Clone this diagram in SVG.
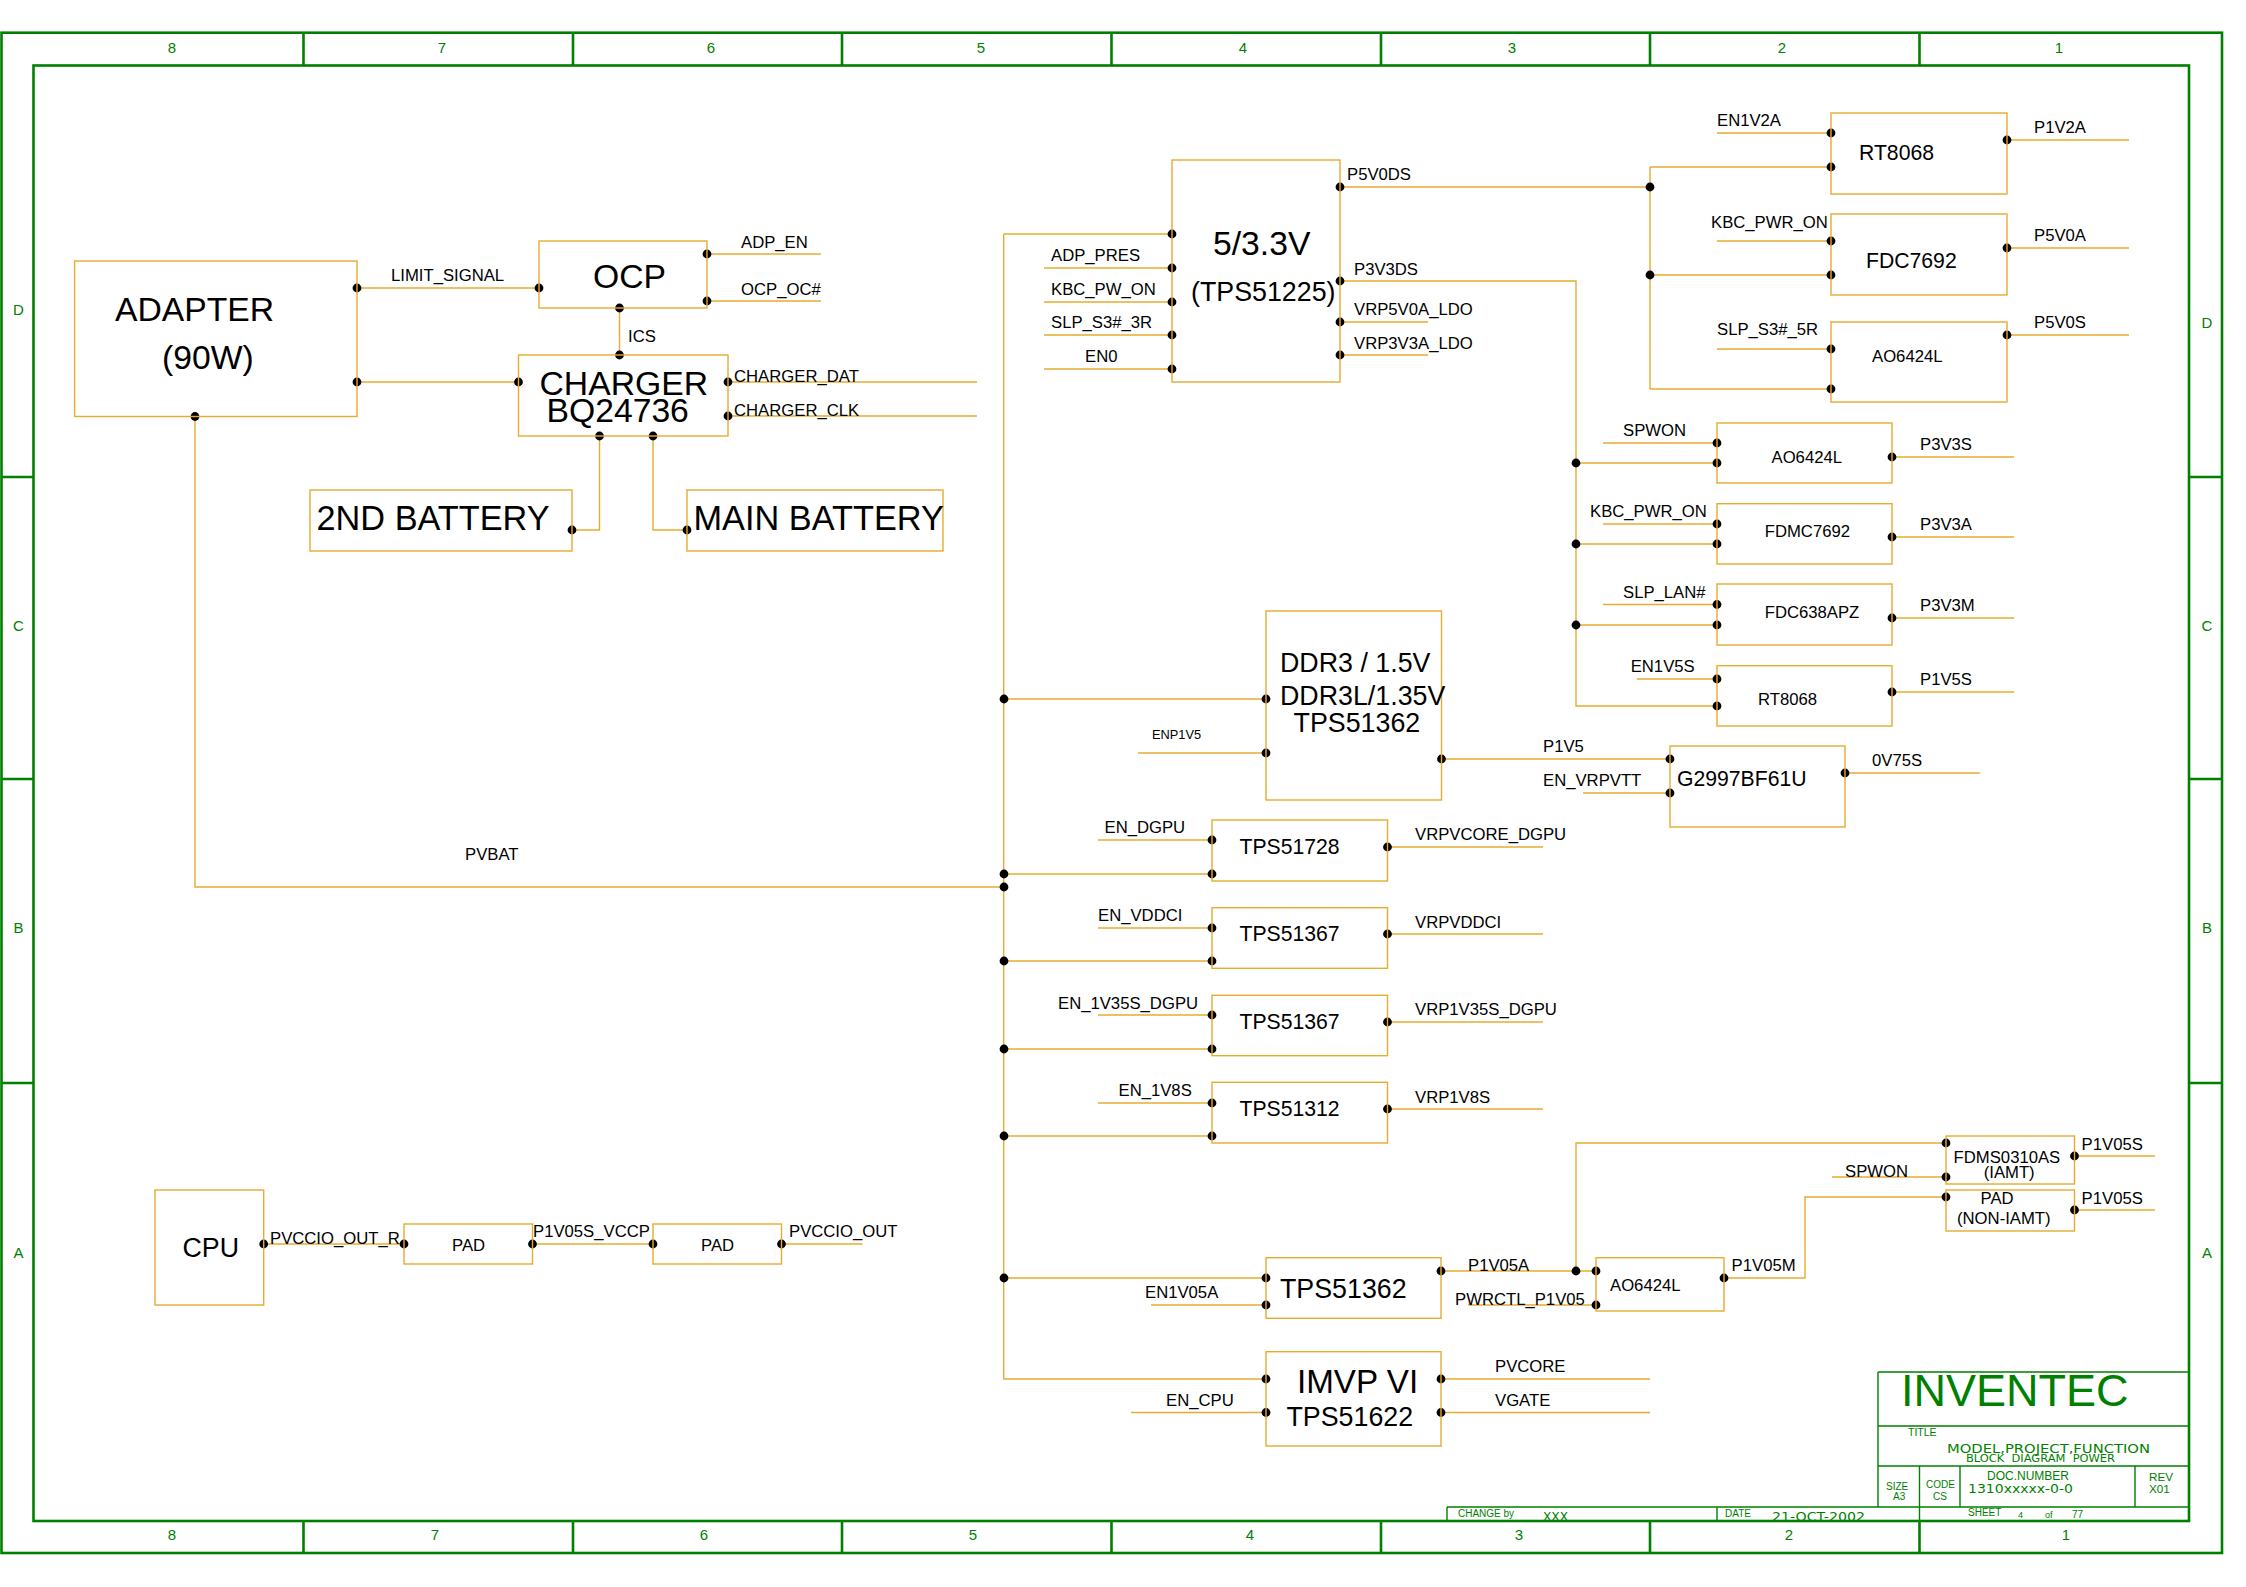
<svg xmlns="http://www.w3.org/2000/svg" width="2246" height="1587" viewBox="0 0 2246 1587">
<style>
text{font-family:"Liberation Sans",Arial,sans-serif;fill:#000;white-space:pre}
.box{fill:none;stroke:#e6ac30;stroke-width:1.4}
.w{fill:none;stroke:#e6ac30;stroke-width:1.4}
.l{font-size:16.7px}
.s{font-size:12.8px}
.m{font-size:21.2px}
.n{font-size:26.8px}
.b{font-size:33.7px}
.bb{font-size:34.3px}
.f{fill:none;stroke:#008000;stroke-width:2.6}
.t{fill:none;stroke:#008000;stroke-width:1.4}
.g{fill:#008000;font-size:15px;text-anchor:middle}
.tb{fill:#008000;font-size:10px}
.tv{fill:#008000;font-family:"DejaVu Sans",sans-serif;font-size:12.5px}
</style>
<defs>
<circle id="d" r="4.4" fill="#000"/>
<clipPath id="cl"><rect x="1440" y="1500" width="460" height="20"/></clipPath>
</defs>

<g id="frame">
<rect class="f" x="1.5" y="32.7" width="2220.5" height="1520.3"/>
<rect class="f" x="33.5" y="65.5" width="2155.5" height="1455.5"/>
<path class="f" stroke-width="2" d="M303.5 33V65M573 33V65M842 33V65M1111.5 33V65M1381 33V65M1650 33V65M1919.5 33V65M303.5 1521V1553M573 1521V1553M842 1521V1553M1111.5 1521V1553M1381 1521V1553M1650 1521V1553M1919.5 1521V1553M2 477H33M2 779H33M2 1083H33M2189 477H2222M2189 779H2222M2189 1083H2222"/>
<text class="g" x="172" y="52.5">8</text><text class="g" x="442" y="52.5">7</text><text class="g" x="711" y="52.5">6</text><text class="g" x="981" y="52.5">5</text><text class="g" x="1243" y="52.5">4</text><text class="g" x="1512" y="52.5">3</text><text class="g" x="1782" y="52.5">2</text><text class="g" x="2059" y="52.5">1</text>
<text class="g" x="172" y="1540">8</text><text class="g" x="435" y="1540">7</text><text class="g" x="704" y="1540">6</text><text class="g" x="973" y="1540">5</text><text class="g" x="1250" y="1540">4</text><text class="g" x="1519" y="1540">3</text><text class="g" x="1789" y="1540">2</text><text class="g" x="2066" y="1540">1</text>
<text class="g" x="18.5" y="315">D</text><text class="g" x="18.5" y="631">C</text><text class="g" x="18.5" y="933">B</text><text class="g" x="18.5" y="1258">A</text>
<text class="g" x="2207" y="328">D</text><text class="g" x="2207" y="631">C</text><text class="g" x="2207" y="933">B</text><text class="g" x="2207" y="1258">A</text>
</g>

<g id="titleblock">
<path class="t" d="M1878 1372H2189M1878 1426H2189M1878 1466H2189M1447 1507H2189M1878 1372V1507M1919.5 1466V1521M1960 1466V1507M2135 1466V1507M1447 1507V1521M1717 1507V1521"/>
<text style="fill:#008000;font-size:45px" x="1901" y="1405.7">INVENTEC</text>
<text class="tb" x="1908" y="1436" style="font-size:10.5px">TITLE</text>
<text class="tv" x="1947" y="1453" textLength="203" lengthAdjust="spacingAndGlyphs">MODEL,PROJECT,FUNCTION</text>
<text class="tv" style="font-size:10.5px" x="1966" y="1462" textLength="149" lengthAdjust="spacingAndGlyphs">BLOCK  DIAGRAM  POWER</text>
<text class="tb" style="font-size:12px" x="1987" y="1480">DOC.NUMBER</text>
<text class="tv" x="1968" y="1493" textLength="105" lengthAdjust="spacingAndGlyphs">1310xxxxx-0-0</text>
<text class="tb" x="1886" y="1490">SIZE</text><text class="tb" x="1893" y="1500">A3</text>
<text class="tb" x="1926" y="1488">CODE</text><text class="tb" x="1933" y="1500">CS</text>
<text class="tb" style="font-size:11.7px" x="2149" y="1481">REV</text><text class="tb" style="font-size:11.7px" x="2149" y="1493">X01</text>
<text class="tb" x="1968" y="1516">SHEET</text><text class="tb" style="font-size:9px" x="2018" y="1518">4</text><text class="tb" style="font-size:9px" x="2045" y="1518">of</text><text class="tb" x="2072" y="1518">77</text>
<text class="tb" x="1458" y="1517">CHANGE by</text>
<text class="tb" x="1725" y="1517">DATE</text>
<g clip-path="url(#cl)">
<text class="tv" x="1543" y="1521" textLength="25" lengthAdjust="spacingAndGlyphs">XXX</text>
<text class="tv" x="1772" y="1521" textLength="93" lengthAdjust="spacingAndGlyphs">21-OCT-2002</text>
</g>
</g>

<g id="connectors">
<path class="w" d="M357 288H539M357 382H518.5M619.5 308V355M707 254H821M707 301H821M728 382H977M728 416H977M599.5 436V530H572M653 436V530H687"/>
<path class="w" d="M195 416.5V887H1004M1003.7 234V1379H1266M1003.7 234H1172M1044 268H1172M1044 302H1172M1044 335H1172M1044 369H1172"/>
<path class="w" d="M1340 187H1650M1650 167V389M1650 167H1831M1650 275H1831M1650 389H1831M1717 133H1831M1717 241H1831M1717 349H1831M2007 140H2129M2007 248H2129M2007 335H2129"/>
<path class="w" d="M1340 281H1576V706H1717M1576 463H1717M1576 544H1717M1576 625H1717M1603 443H1717M1603 524H1717M1603 604.5H1717M1637 679H1717M1892 457H2014M1892 537H2014M1892 618H2014M1892 692H2014"/>
<path class="w" d="M1340 322H1428M1340 355H1428"/>
<path class="w" d="M1004 699H1266M1138 753H1266M1441.5 759H1670M1583 793H1670M1845 773H1980"/>
<path class="w" d="M1098 840H1212M1004 874H1212M1387.5 847H1543M1098 928H1212M1004 961H1212M1387.5 934H1543M1098 1015H1212M1004 1049H1212M1387.5 1022H1543M1098 1103H1212M1004 1136H1212M1387.5 1109H1543"/>
<path class="w" d="M1004 1278H1266M1151 1305H1266M1131 1412.5H1266M1441 1271H1596M1468 1305H1596M1576 1271V1143H1946M1832 1177H1946M1724 1278H1805V1197H1946M2074.5 1156H2155M2074.5 1210H2155M1441 1379H1650M1441 1412.5H1650"/>
<path class="w" d="M263.7 1244H404M532.5 1244H653M781.5 1244H862.6"/>
<use href="#d" x="357" y="288"/><use href="#d" x="539" y="288"/><use href="#d" x="357" y="382"/><use href="#d" x="518.5" y="382"/><use href="#d" x="619.5" y="308"/><use href="#d" x="619.5" y="355"/><use href="#d" x="707" y="254"/><use href="#d" x="707" y="301"/><use href="#d" x="728" y="382"/><use href="#d" x="728" y="416"/><use href="#d" x="599.5" y="436"/><use href="#d" x="653" y="436"/><use href="#d" x="572" y="530"/><use href="#d" x="687" y="530"/><use href="#d" x="195" y="416.5"/>
<use href="#d" x="1172" y="234"/><use href="#d" x="1172" y="268"/><use href="#d" x="1172" y="302"/><use href="#d" x="1172" y="335"/><use href="#d" x="1172" y="369"/><use href="#d" x="1340" y="187"/><use href="#d" x="1340" y="281"/><use href="#d" x="1340" y="322"/><use href="#d" x="1340" y="355"/>
<use href="#d" x="1650" y="187"/><use href="#d" x="1650" y="275"/><use href="#d" x="1831" y="133"/><use href="#d" x="1831" y="167"/><use href="#d" x="1831" y="241"/><use href="#d" x="1831" y="275"/><use href="#d" x="1831" y="349"/><use href="#d" x="1831" y="389"/><use href="#d" x="2007" y="140"/><use href="#d" x="2007" y="248"/><use href="#d" x="2007" y="335"/>
<use href="#d" x="1576" y="463"/><use href="#d" x="1576" y="544"/><use href="#d" x="1576" y="625"/><use href="#d" x="1717" y="443"/><use href="#d" x="1717" y="463"/><use href="#d" x="1717" y="524"/><use href="#d" x="1717" y="544"/><use href="#d" x="1717" y="604.5"/><use href="#d" x="1717" y="625"/><use href="#d" x="1717" y="679"/><use href="#d" x="1717" y="706"/><use href="#d" x="1892" y="457"/><use href="#d" x="1892" y="537"/><use href="#d" x="1892" y="618"/><use href="#d" x="1892" y="692"/>
<use href="#d" x="1004" y="699"/><use href="#d" x="1266" y="699"/><use href="#d" x="1266" y="753"/><use href="#d" x="1441.5" y="759"/><use href="#d" x="1670" y="759"/><use href="#d" x="1670" y="793"/><use href="#d" x="1845" y="773"/>
<use href="#d" x="1004" y="874"/><use href="#d" x="1004" y="887"/><use href="#d" x="1004" y="961"/><use href="#d" x="1004" y="1049"/><use href="#d" x="1004" y="1136"/><use href="#d" x="1004" y="1278"/>
<use href="#d" x="1212" y="840"/><use href="#d" x="1212" y="874"/><use href="#d" x="1387.5" y="847"/><use href="#d" x="1212" y="928"/><use href="#d" x="1212" y="961"/><use href="#d" x="1387.5" y="934"/><use href="#d" x="1212" y="1015"/><use href="#d" x="1212" y="1049"/><use href="#d" x="1387.5" y="1022"/><use href="#d" x="1212" y="1103"/><use href="#d" x="1212" y="1136"/><use href="#d" x="1387.5" y="1109"/>
<use href="#d" x="1266" y="1278"/><use href="#d" x="1266" y="1305"/><use href="#d" x="1266" y="1379"/><use href="#d" x="1266" y="1412.5"/><use href="#d" x="1441" y="1271"/><use href="#d" x="1441" y="1379"/><use href="#d" x="1441" y="1412.5"/><use href="#d" x="1576" y="1271"/><use href="#d" x="1596" y="1271"/><use href="#d" x="1596" y="1305"/><use href="#d" x="1724" y="1278"/><use href="#d" x="1946" y="1143"/><use href="#d" x="1946" y="1177"/><use href="#d" x="1946" y="1197"/><use href="#d" x="2074.5" y="1156"/><use href="#d" x="2074.5" y="1210"/>
<use href="#d" x="263.7" y="1244"/><use href="#d" x="404" y="1244"/><use href="#d" x="532.5" y="1244"/><use href="#d" x="653" y="1244"/><use href="#d" x="781.5" y="1244"/>
</g>

<g id="connector-labels">
<text class="l" x="391" y="281">LIMIT_SIGNAL</text><text class="l" x="741" y="248">ADP_EN</text><text class="l" x="741" y="295">OCP_OC#</text><text class="l" x="628" y="342">ICS</text><text class="l" x="734" y="382">CHARGER_DAT</text><text class="l" x="734" y="416">CHARGER_CLK</text><text class="l" x="465" y="860">PVBAT</text>
<text class="l" x="1051" y="261">ADP_PRES</text><text class="l" x="1051" y="295">KBC_PW_ON</text><text class="l" x="1051" y="328">SLP_S3#_3R</text><text class="l" x="1085" y="362">EN0</text><text class="l" x="1347" y="179.7">P5V0DS</text><text class="l" x="1354" y="275">P3V3DS</text><text class="l" x="1354" y="315">VRP5V0A_LDO</text><text class="l" x="1354" y="349">VRP3V3A_LDO</text>
<text class="l" x="1717" y="126">EN1V2A</text><text class="l" x="1711" y="228">KBC_PWR_ON</text><text class="l" x="1717" y="335">SLP_S3#_5R</text><text class="l" x="2034" y="133">P1V2A</text><text class="l" x="2034" y="241">P5V0A</text><text class="l" x="2034" y="328">P5V0S</text>
<text class="l" x="1623" y="435.7">SPWON</text><text class="l" x="1590" y="516.7">KBC_PWR_ON</text><text class="l" x="1623" y="597.7">SLP_LAN#</text><text class="l" x="1630.7" y="672">EN1V5S</text><text class="l" x="1920" y="450">P3V3S</text><text class="l" x="1920" y="530">P3V3A</text><text class="l" x="1920" y="610.7">P3V3M</text><text class="l" x="1920" y="685">P1V5S</text>
<text class="s" x="1152" y="739">ENP1V5</text><text class="l" x="1543" y="752">P1V5</text><text class="l" x="1543" y="786">EN_VRPVTT</text><text class="l" x="1872" y="766">0V75S</text>
<text class="l" x="1104.5" y="833">EN_DGPU</text><text class="l" x="1098" y="921">EN_VDDCI</text><text class="l" x="1058" y="1009">EN_1V35S_DGPU</text><text class="l" x="1118.5" y="1096">EN_1V8S</text><text class="l" x="1415" y="840">VRPVCORE_DGPU</text><text class="l" x="1415" y="928">VRPVDDCI</text><text class="l" x="1415" y="1015">VRP1V35S_DGPU</text><text class="l" x="1415" y="1103">VRP1V8S</text>
<text class="l" x="1145" y="1298">EN1V05A</text><text class="l" x="1166" y="1406">EN_CPU</text><text class="l" x="1468" y="1271">P1V05A</text><text class="l" x="1455" y="1305">PWRCTL_P1V05</text><text class="l" x="1731.6" y="1271">P1V05M</text><text class="l" x="1845" y="1177">SPWON</text><text class="l" x="2081.6" y="1150">P1V05S</text><text class="l" x="2081.6" y="1204">P1V05S</text><text class="l" x="1495" y="1372">PVCORE</text><text class="l" x="1495" y="1406">VGATE</text>
<text class="l" x="270" y="1244">PVCCIO_OUT_R</text><text class="l" x="533" y="1237">P1V05S_VCCP</text><text class="l" x="789" y="1237">PVCCIO_OUT</text>
</g>

<g id="adapter"><rect class="box" x="74.6" y="261" width="282.4" height="155.5"/><text class="b" x="115" y="321">ADAPTER</text><text class="b" x="162" y="369">(90W)</text></g>
<g id="ocp"><rect class="box" x="539" y="241" width="168" height="67"/><text class="b" x="593" y="288">OCP</text></g>
<g id="charger"><rect class="box" x="518.5" y="355" width="209.5" height="81"/><text class="b" x="539.5" y="395">CHARGER</text><text class="b" x="546.5" y="422">BQ24736</text></g>
<g id="battery2"><rect class="box" x="310" y="490" width="262" height="61"/><text class="bb" x="316.5" y="530">2ND BATTERY</text></g>
<g id="battery-main"><rect class="box" x="687" y="490" width="256" height="61"/><text class="bb" x="693.5" y="530">MAIN BATTERY</text></g>
<g id="tps51225"><rect class="box" x="1172" y="160" width="168" height="222"/><text class="b" x="1213" y="255">5/3.3V</text><text class="n" x="1191" y="300.7">(TPS51225)</text></g>
<g id="rt8068a"><rect class="box" x="1831" y="113" width="176" height="81"/><text class="m" x="1859" y="160">RT8068</text></g>
<g id="fdc7692"><rect class="box" x="1831" y="214" width="176" height="81"/><text class="m" x="1866" y="268">FDC7692</text></g>
<g id="ao6424a"><rect class="box" x="1831" y="322" width="176" height="80"/><text class="l" x="1872" y="362">AO6424L</text></g>
<g id="ao6424b"><rect class="box" x="1717" y="423" width="175" height="60"/><text class="l" x="1771.5" y="463">AO6424L</text></g>
<g id="fdmc7692"><rect class="box" x="1717" y="503.7" width="175" height="60.3"/><text class="l" x="1764.7" y="537">FDMC7692</text></g>
<g id="fdc638apz"><rect class="box" x="1717" y="584" width="175" height="61"/><text class="l" x="1764.7" y="617.7">FDC638APZ</text></g>
<g id="rt8068b"><rect class="box" x="1717" y="665.7" width="175" height="60.3"/><text class="l" x="1758" y="705">RT8068</text></g>
<g id="ddr"><rect class="box" x="1266" y="611" width="175.5" height="189"/><text class="n" x="1280" y="672">DDR3 / 1.5V</text><text class="n" x="1280" y="705">DDR3L/1.35V</text><text class="n" x="1293.6" y="732">TPS51362</text></g>
<g id="g2997"><rect class="box" x="1670" y="746" width="175" height="81"/><text class="m" x="1677" y="786">G2997BF61U</text></g>
<g id="tps51728"><rect class="box" x="1212" y="820" width="175.5" height="61"/><text class="m" x="1239.5" y="854">TPS51728</text></g>
<g id="tps51367a"><rect class="box" x="1212" y="907.7" width="175.5" height="60.6"/><text class="m" x="1239.5" y="941">TPS51367</text></g>
<g id="tps51367b"><rect class="box" x="1212" y="995.3" width="175.5" height="60.4"/><text class="m" x="1239.5" y="1029">TPS51367</text></g>
<g id="tps51312"><rect class="box" x="1212" y="1082.3" width="175.5" height="60.7"/><text class="m" x="1239.5" y="1116">TPS51312</text></g>
<g id="tps51362"><rect class="box" x="1266" y="1257.7" width="175" height="60.6"/><text class="n" x="1280" y="1298">TPS51362</text></g>
<g id="imvp"><rect class="box" x="1266" y="1351.7" width="175" height="94.3"/><text class="b" style="font-size:33.2px" x="1297" y="1392.7">IMVP VI</text><text class="n" x="1286.5" y="1426">TPS51622</text></g>
<g id="ao6424c"><rect class="box" x="1596" y="1257.7" width="128" height="53.3"/><text class="l" x="1610" y="1291">AO6424L</text></g>
<g id="fdms0310"><rect class="box" x="1946" y="1136" width="128.5" height="48"/><text class="l" x="1953.6" y="1163">FDMS0310AS</text><text class="l" x="1983.7" y="1177.6">(IAMT)</text></g>
<g id="pad-noniamt"><rect class="box" x="1946" y="1190" width="128.5" height="41"/><text class="l" x="1980.6" y="1204">PAD</text><text class="l" x="1957" y="1224">(NON-IAMT)</text></g>
<g id="cpu"><rect class="box" x="155" y="1190" width="108.7" height="115"/><text class="n" x="182.5" y="1257">CPU</text></g>
<g id="pad1"><rect class="box" x="404" y="1224" width="128.5" height="40"/><text class="l" x="452" y="1251">PAD</text></g>
<g id="pad2"><rect class="box" x="653" y="1224" width="128.5" height="40"/><text class="l" x="701" y="1251">PAD</text></g>
</svg>
